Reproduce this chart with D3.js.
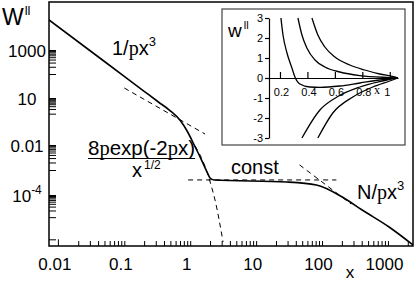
<!DOCTYPE html>
<html lang="en">
<head>
<meta charset="UTF-8">
<title>W parallele</title>
<style>
    body { margin: 0; background: #fff; }
    svg { display: block; }
    text { font-family: "Liberation Sans", Arial, sans-serif; fill: #000; }
    .serif { font-family: "Liberation Serif", "Times New Roman", serif; }
</style>
</head>
<body>
<script src="https://cdn.jsdelivr.net/npm/d3@7"></script>
<script>
    // courbe principale
    const courbeX = [0.0072, 0.05, 0.2, 0.329, 0.482, 0.707, 0.933, 1.149, 1.415, 1.80, 2.0, 2.30, 29, 82, 203, 406, 1040, 2400];
    const courbeY = [17800, 332, 19, 5.56, 1.71, 0.366, 0.0583, 0.01, 3.3e-3, 8.3e-4, 4.8e-4, 4.0e-4, 3.3e-4, 2.5e-4, 8.1e-5, 2.1e-5, 3.6e-6, 5.6e-7];

    // asymptotes en pointillés
    const tangenteX = [0.1, 1.68];
    const tangenteY = [26, 0.05];
    const expX = [1.19, 1.80, 2.07, 2.38, 3.15];
    const expY = [9.1e-3, 8.3e-4, 2.5e-4, 5.9e-5, 7.6e-7];
    const constX = [0.93, 165];
    const constY = [4.0e-4, 4.0e-4];
    const grandXX = [45.6, 277];
    const grandXY = [1.6e-3, 3.9e-5];

    // graduations
    const ticksX = [0.01, 0.1, 1, 10, 100, 1000];
    const etiquettesX = ["0.01", "0.1", "1", "10", "100", "1000"];
    const ticksY = [1e3, 1e1, 1e-2, 1e-4];
    const etiquettesY = [["1000", ""], ["10", ""], ["0.01", ""], ["10", "-4"]];

    // encart : cinq courbes
    const encartCourbes = [
        { x: [0.207, 0.222, 0.251, 0.287, 0.309, 0.345, 0.418, 0.491, 0.636, 0.782, 0.927, 1.036],
          y: [3, 2.15, 1.25, 0.5, 0.05, -0.3, -0.45, -0.47, -0.4, -0.25, -0.1, -0.02] },
        { x: [0.331, 0.36, 0.396, 0.455, 0.527, 0.636, 0.782, 1.0, 1.06],
          y: [3, 2.15, 1.5, 0.9, 0.55, 0.3, 0.12, 0.02, 0] },
        { x: [0.433, 0.476, 0.527, 0.6, 0.709, 0.818, 0.927, 1.036, 1.06],
          y: [3, 2.15, 1.55, 1.05, 0.65, 0.4, 0.2, 0.05, 0] },
        { x: [0.36, 0.491, 0.615, 0.782, 0.978, 1.036],
          y: [-3, -1.6, -0.95, -0.45, -0.1, 0] },
        { x: [0.476, 0.585, 0.731, 0.876, 1.0, 1.06],
          y: [-3, -1.75, -0.95, -0.45, -0.15, 0] }
    ];
    const encartTicksX = [0.2, 0.4, 0.6, 0.8, 1];
    const encartEtiquettesX = ["0.2", "0.4", "0.6", "0.8", "1"];
    const encartTicksY = [3, 2, 1, 0, -1, -2, -3];

    const largeur = 416, hauteur = 283;
    const cadre = { gauche: 49, haut: 2, droite: 413, bas: 246 };

    const canevas = d3.select("body").append("svg")
        .attr("width", largeur)
        .attr("height", hauteur);

    // échelles
    const echelleX = d3.scaleLog()
        .domain([0.0072, 2400])
        .range([cadre.gauche, cadre.droite]);

    // l'axe vertical de la figure n'est pas régulier : échelle log par morceaux
    const echelleY = d3.scaleLog()
        .domain([1e5, 1e3, 1e1, 1e-2, 1e-4, 5e-7])
        .range([2, 50, 98, 145, 195, 246]);

    canevas.append("clipPath").attr("id", "clip")
        .append("rect")
        .attr("x", cadre.gauche).attr("y", cadre.haut)
        .attr("width", cadre.droite - cadre.gauche)
        .attr("height", cadre.bas - cadre.haut);

    // graduations mineures en x (vers le haut)
    const mineursX = [];
    for (let n = -3; n <= 3; n++) {
        for (let k = 1; k <= 9; k++) {
            const v = k * Math.pow(10, n);
            if (v > 0.0105 && v < 2400) mineursX.push(v);
        }
    }
    const axeX = canevas.append("g")
        .attr("transform", `translate(0,${cadre.bas})`)
        .call(d3.axisBottom(echelleX).tickValues(mineursX).tickSize(-5).tickFormat(""));
    axeX.select(".domain").remove();
    axeX.selectAll("line").attr("stroke-width", 1);

    // petit trait à 0.01
    canevas.append("line")
        .attr("x1", echelleX(0.01)).attr("x2", echelleX(0.01))
        .attr("y1", cadre.bas).attr("y2", echelleY(1e-6))
        .attr("stroke", "#000");

    // étiquettes x
    const etiqX = canevas.append("g")
        .attr("transform", `translate(0,${cadre.bas})`)
        .call(d3.axisBottom(echelleX).tickValues(ticksX).tickSize(0).tickPadding(12)
            .tickFormat((d, i) => etiquettesX[i]));
    etiqX.select(".domain").remove();
    etiqX.selectAll("text")
        .attr("font-size", 17)
        .attr("font-family", "Liberation Sans, Arial, sans-serif")
        .attr("dx", -4);

    canevas.append("text")
        .attr("x", 350).attr("y", 278)
        .attr("text-anchor", "middle")
        .attr("font-size", 17)
        .text("x");

    // graduations y : groupes de traits sous chaque étiquette
    const mineursY = [];
    ticksY.forEach(t => {
        for (let k = 1; k <= 9; k++) mineursY.push(k * t / 10);
    });
    mineursY.push(1e-6);
    const axeY = canevas.append("g")
        .attr("transform", `translate(${cadre.gauche},0)`)
        .call(d3.axisLeft(echelleY).tickValues(mineursY.concat(ticksY)).tickSize(-7).tickFormat(""));
    axeY.select(".domain").remove();
    axeY.selectAll("line").attr("stroke-width", 1);

    const etiqY = canevas.append("g").selectAll("text")
        .data(ticksY)
        .enter()
        .append("text")
        .attr("x", 27)
        .attr("y", d => echelleY(d) + 7)
        .attr("text-anchor", "middle")
        .attr("font-size", 17);
    etiqY.append("tspan").text((d, i) => etiquettesY[i][0]);
    etiqY.append("tspan")
        .attr("font-size", 12)
        .attr("dy", -8)
        .text((d, i) => etiquettesY[i][1]);

    // titre de l'axe y
    const titreY = canevas.append("text").attr("x", 2).attr("y", 25).attr("font-size", 23);
    titreY.append("tspan").text("W");
    titreY.append("tspan").attr("font-size", 13).attr("dy", -10).attr("dx", 1).text("ll");

    // cadre
    canevas.append("rect")
        .attr("x", cadre.gauche).attr("y", cadre.haut)
        .attr("width", cadre.droite - cadre.gauche)
        .attr("height", cadre.bas - cadre.haut)
        .attr("fill", "none")
        .attr("stroke", "#000")
        .attr("stroke-width", 1.5);

    // courbes
    const ligne = d3.line()
        .x(d => echelleX(d[0]))
        .y(d => echelleY(d[1]))
        .curve(d3.curveMonotoneX);
    const zip = (xs, ys) => xs.map((x, i) => [x, ys[i]]);

    const traces = canevas.append("g").attr("clip-path", "url(#clip)");

    [[tangenteX, tangenteY], [expX, expY], [constX, constY], [grandXX, grandXY]].forEach(s => {
        traces.append("path")
            .attr("d", ligne(zip(s[0], s[1])))
            .attr("fill", "none")
            .attr("stroke", "#000")
            .attr("stroke-width", 1)
            .attr("stroke-dasharray", "5,4");
    });

    traces.append("path")
        .attr("d", ligne(zip(courbeX, courbeY)))
        .attr("fill", "none")
        .attr("stroke", "#000")
        .attr("stroke-width", 1.6);

    // annotations
    const ann1 = canevas.append("text").attr("x", 112).attr("y", 55).attr("font-size", 20);
    ann1.append("tspan").text("1/");
    ann1.append("tspan").attr("class", "serif").text("p");
    ann1.append("tspan").text("x");
    ann1.append("tspan").attr("font-size", 13).attr("dy", -9).text("3");

    const ann2 = canevas.append("text").attr("x", 88).attr("y", 155).attr("font-size", 20.5);
    ann2.append("tspan").text("8");
    ann2.append("tspan").attr("class", "serif").text("p");
    ann2.append("tspan").text("exp(-2");
    ann2.append("tspan").attr("class", "serif").text("p");
    ann2.append("tspan").text("x)");
    const finAnn2 = 88 + ann2.node().getComputedTextLength();
    canevas.append("line")
        .attr("x1", 88).attr("x2", finAnn2)
        .attr("y1", 158.5).attr("y2", 158.5)
        .attr("stroke", "#000").attr("stroke-width", 1);
    const ann3 = canevas.append("text").attr("x", 132).attr("y", 177).attr("font-size", 20);
    ann3.append("tspan").text("x");
    ann3.append("tspan").attr("font-size", 12).attr("dy", -8).attr("dx", 2).text("1/2");

    canevas.append("text").attr("x", 231).attr("y", 174).attr("font-size", 20).text("const");

    const ann4 = canevas.append("text").attr("x", 357).attr("y", 199).attr("font-size", 20);
    ann4.append("tspan").text("N/");
    ann4.append("tspan").attr("class", "serif").text("p");
    ann4.append("tspan").text("x");
    ann4.append("tspan").attr("font-size", 13).attr("dy", -9).text("3");

    // ---- encart ----
    const encart = canevas.append("g");
    encart.append("rect")
        .attr("x", 222).attr("y", 9)
        .attr("width", 183).attr("height", 136)
        .attr("fill", "#fff")
        .attr("stroke", "#444")
        .attr("stroke-width", 1.2);

    const encartX = d3.scaleLinear().domain([0.12, 1.06]).range([269, 398]);
    const encartY = d3.scaleLinear().domain([-3, 3]).range([138, 18]);

    const axeEncartY = encart.append("g")
        .attr("transform", "translate(269,0)")
        .call(d3.axisLeft(encartY).tickValues(encartTicksY).tickSize(4).tickSizeOuter(0).tickPadding(2)
            .tickFormat(d => d < 0 ? "-" + Math.abs(d) : d));
    axeEncartY.selectAll("text")
        .attr("font-family", "Liberation Serif, Times New Roman, serif")
        .attr("font-size", 11);

    const axeEncartX = encart.append("g")
        .attr("transform", `translate(0,${encartY(0)})`)
        .call(d3.axisBottom(encartX).tickValues(encartTicksX).tickSize(-6).tickSizeOuter(0).tickPadding(10)
            .tickFormat((d, i) => encartEtiquettesX[i]));
    axeEncartX.selectAll("text")
        .attr("font-family", "Liberation Serif, Times New Roman, serif")
        .attr("font-size", 11)
        .attr("dx", (d, i) => i == 4 ? -3 : 1);
    encart.selectAll(".tick line").attr("stroke-width", 1.2);
    encart.selectAll(".domain").attr("stroke-width", 1.2);

    encart.append("text")
        .attr("class", "serif")
        .attr("x", 377).attr("y", 94)
        .attr("text-anchor", "middle")
        .attr("font-size", 12)
        .text("x");

    const titreEncart = encart.append("text").attr("x", 228).attr("y", 37).attr("font-size", 19);
    titreEncart.append("tspan").text("w");
    titreEncart.append("tspan").attr("font-size", 11).attr("dy", -8).attr("dx", 2).text("ll");

    const ligneEncart = d3.line()
        .x(d => encartX(d[0]))
        .y(d => encartY(d[1]))
        .curve(d3.curveMonotoneX);
    encart.selectAll(".courbe")
        .data(encartCourbes)
        .enter()
        .append("path")
        .attr("class", "courbe")
        .attr("d", c => ligneEncart(zip(c.x, c.y)))
        .attr("fill", "none")
        .attr("stroke", "#000")
        .attr("stroke-width", 1.3);
</script>
</body>
</html>
